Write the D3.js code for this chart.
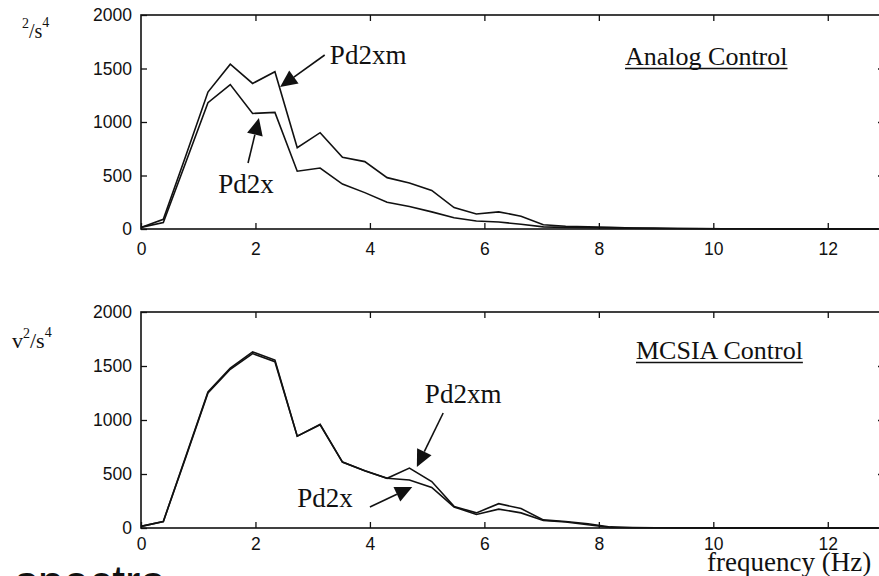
<!DOCTYPE html>
<html>
<head>
<meta charset="utf-8">
<script src="https://cdn.jsdelivr.net/npm/d3@7"></script>
<style>
  body { margin: 0; background: #fff; }
  svg { display: block; }
</style>
</head>
<body>
<div id="chart"></div>
<script>
var width = 879
var height = 576

// frequency bins (Hz)
var freq = [0, 0.39, 0.78, 1.17, 1.56, 1.95, 2.34, 2.73, 3.13, 3.52, 3.91, 4.30, 4.69, 5.08, 5.47, 5.86, 6.25,
    6.64, 7.03, 7.42, 7.81, 8.20, 8.59, 8.98, 9.38, 9.77, 10.16, 10.55, 10.94, 11.33, 11.72, 12.11, 12.50, 12.89]

// Analog Control
var analogPd2xm = [15, 90, 680, 1280, 1540, 1360, 1470, 760, 900, 670, 630, 480, 430, 360, 200, 140, 160,
    120, 40, 25, 20, 15, 10, 8, 5, 4, 3, 2, 2, 1, 1, 1, 0, 0]
var analogPd2x = [15, 60, 620, 1180, 1350, 1080, 1090, 540, 570, 420, 340, 250, 210, 160, 105, 75, 65,
    45, 20, 15, 12, 10, 8, 5, 4, 3, 2, 2, 1, 1, 1, 0, 0, 0]

// MCSIA Control
var mcsiaPd2xm = [15, 60, 660, 1260, 1480, 1630, 1555, 850, 960, 610, 530, 460, 555, 430, 200, 140, 225,
    180, 75, 60, 40, 10, 5, 3, 2, 2, 1, 1, 1, 0, 0, 0, 0, 0]
var mcsiaPd2x = [15, 60, 650, 1250, 1470, 1615, 1540, 850, 955, 610, 530, 460, 445, 375, 195, 125, 175,
    140, 70, 55, 30, 5, 3, 2, 1, 1, 1, 0, 0, 0, 0, 0, 0, 0]

var xTicks = [0, 2, 4, 6, 8, 10, 12]
var yTicks = [0, 500, 1000, 1500, 2000]

var panels = [
    {
        title: 'Analog Control', top: 15, bottom: 229, xPad: 14,
        series: [analogPd2xm, analogPd2x],
        unitPre: '', unitX: 22, unitY: 38, unitSize: 20,
        notes: [
            { text: 'Pd2xm', lx: 3.30, ly: 1540, from: [3.21, 1626], to: [2.43, 1327] },
            { text: 'Pd2x', lx: 1.35, ly: 336, from: [1.87, 617], to: [2.06, 1037] }
        ],
        titleX: 625, titleY: 65
    },
    {
        title: 'MCSIA Control', top: 312, bottom: 528, xPad: 10,
        series: [mcsiaPd2xm, mcsiaPd2x],
        unitPre: 'v', unitX: 12, unitY: 348, unitSize: 22,
        notes: [
            { text: 'Pd2xm', lx: 4.96, ly: 1160, from: [5.28, 1065], to: [4.82, 565] },
            { text: 'Pd2x', lx: 2.73, ly: 195, from: [4.00, 195], to: [4.74, 380] }
        ],
        titleX: 636, titleY: 359
    }
]

var serif = '"Liberation Serif", "Times New Roman", serif'
var sans = '"Liberation Sans", Arial, sans-serif'

var svg = d3.select('#chart')
    .append('svg')
    .attr('width', width)
    .attr('height', height)

var x = d3.scaleLinear().domain([0, 13]).range([141, 885])

panels.forEach(function (p) {
    var y = d3.scaleLinear().domain([0, 2000]).range([p.bottom, p.top])
    var g = svg.append('g')

    // frame
    g.append('rect')
        .attr('x', x(0)).attr('y', p.top)
        .attr('width', x(13) - x(0)).attr('height', p.bottom - p.top)
        .attr('fill', 'none').attr('stroke', '#111').attr('stroke-width', 1.6)

    var bottomAxis = g.append('g')
        .attr('transform', 'translate(0,' + p.bottom + ')')
        .call(d3.axisBottom(x).tickValues(xTicks).tickSize(-6).tickPadding(p.xPad).tickFormat(d3.format('d')))
    var topAxis = g.append('g')
        .attr('transform', 'translate(0,' + p.top + ')')
        .call(d3.axisTop(x).tickValues(xTicks.slice(1)).tickSize(-6).tickFormat(''))
    var leftAxis = g.append('g')
        .attr('transform', 'translate(' + x(0) + ',0)')
        .call(d3.axisLeft(y).tickValues(yTicks).tickSize(-6).tickPadding(9).tickFormat(d3.format('d')))
    var rightAxis = g.append('g')
        .attr('transform', 'translate(' + x(13) + ',0)')
        .call(d3.axisRight(y).tickValues([500, 1000, 1500]).tickSize(-7).tickFormat(''))

    ;[bottomAxis, topAxis, leftAxis, rightAxis].forEach(function (a) {
        a.select('.domain').remove()
        a.selectAll('line').attr('stroke', '#111').attr('stroke-width', 1.3)
        a.selectAll('text').attr('fill', '#111').style('font-family', sans).style('font-size', '17.5px')
    })

    // spectra lines
    var line = d3.line()
        .x(function (d, i) { return x(freq[i]) })
        .y(function (d) { return y(d) })
    p.series.forEach(function (s) {
        g.append('path')
            .datum(s)
            .attr('d', line)
            .attr('fill', 'none')
            .attr('stroke', '#111')
            .attr('stroke-width', 1.6)
    })

    // title, underlined
    var t = g.append('text')
        .attr('x', p.titleX).attr('y', p.titleY)
        .style('font-family', serif).style('font-size', '26px')
        .attr('fill', '#111')
        .text(p.title)
    var tw = t.node().getComputedTextLength()
    g.append('line')
        .attr('x1', p.titleX).attr('x2', p.titleX + tw)
        .attr('y1', p.titleY + 3.5).attr('y2', p.titleY + 3.5)
        .attr('stroke', '#111').attr('stroke-width', 1.3)

    // unit label
    var u = g.append('text')
        .attr('x', p.unitX).attr('y', p.unitY)
        .style('font-family', serif).style('font-size', p.unitSize + 'px')
        .attr('fill', '#111')
    if (p.unitPre) u.append('tspan').text(p.unitPre)
    u.append('tspan').attr('dy', -10).style('font-size', '14px').text('2')
    u.append('tspan').attr('dy', 10).text('/s')
    u.append('tspan').attr('dy', -11).style('font-size', '14px').text('4')

    // annotations with arrows
    p.notes.forEach(function (n) {
        g.append('text')
            .attr('x', x(n.lx)).attr('y', y(n.ly))
            .style('font-family', serif).style('font-size', '27px')
            .attr('fill', '#111')
            .text(n.text)
        var x1 = x(n.from[0]), y1 = y(n.from[1])
        var x2 = x(n.to[0]), y2 = y(n.to[1])
        var ang = Math.atan2(y2 - y1, x2 - x1)
        var len = 17, half = 8
        var bx = x2 - len * Math.cos(ang), by = y2 - len * Math.sin(ang)
        g.append('line')
            .attr('x1', x1).attr('y1', y1).attr('x2', bx).attr('y2', by)
            .attr('stroke', '#111').attr('stroke-width', 1.6)
        g.append('path')
            .attr('d', 'M' + x2 + ',' + y2 +
                'L' + (bx + half * Math.sin(ang)) + ',' + (by - half * Math.cos(ang)) +
                'L' + (bx - half * Math.sin(ang)) + ',' + (by + half * Math.cos(ang)) + 'Z')
            .attr('fill', '#111')
    })
})

svg.append('text')
    .attr('x', 707).attr('y', 571)
    .style('font-family', serif).style('font-size', '27px')
    .attr('fill', '#111')
    .text('frequency (Hz)')

svg.append('text')
    .attr('x', 15).attr('y', 598)
    .style('font-family', sans).style('font-size', '46px')
    .attr('fill', '#111')
    .text('spectra')
</script>
</body>
</html>
